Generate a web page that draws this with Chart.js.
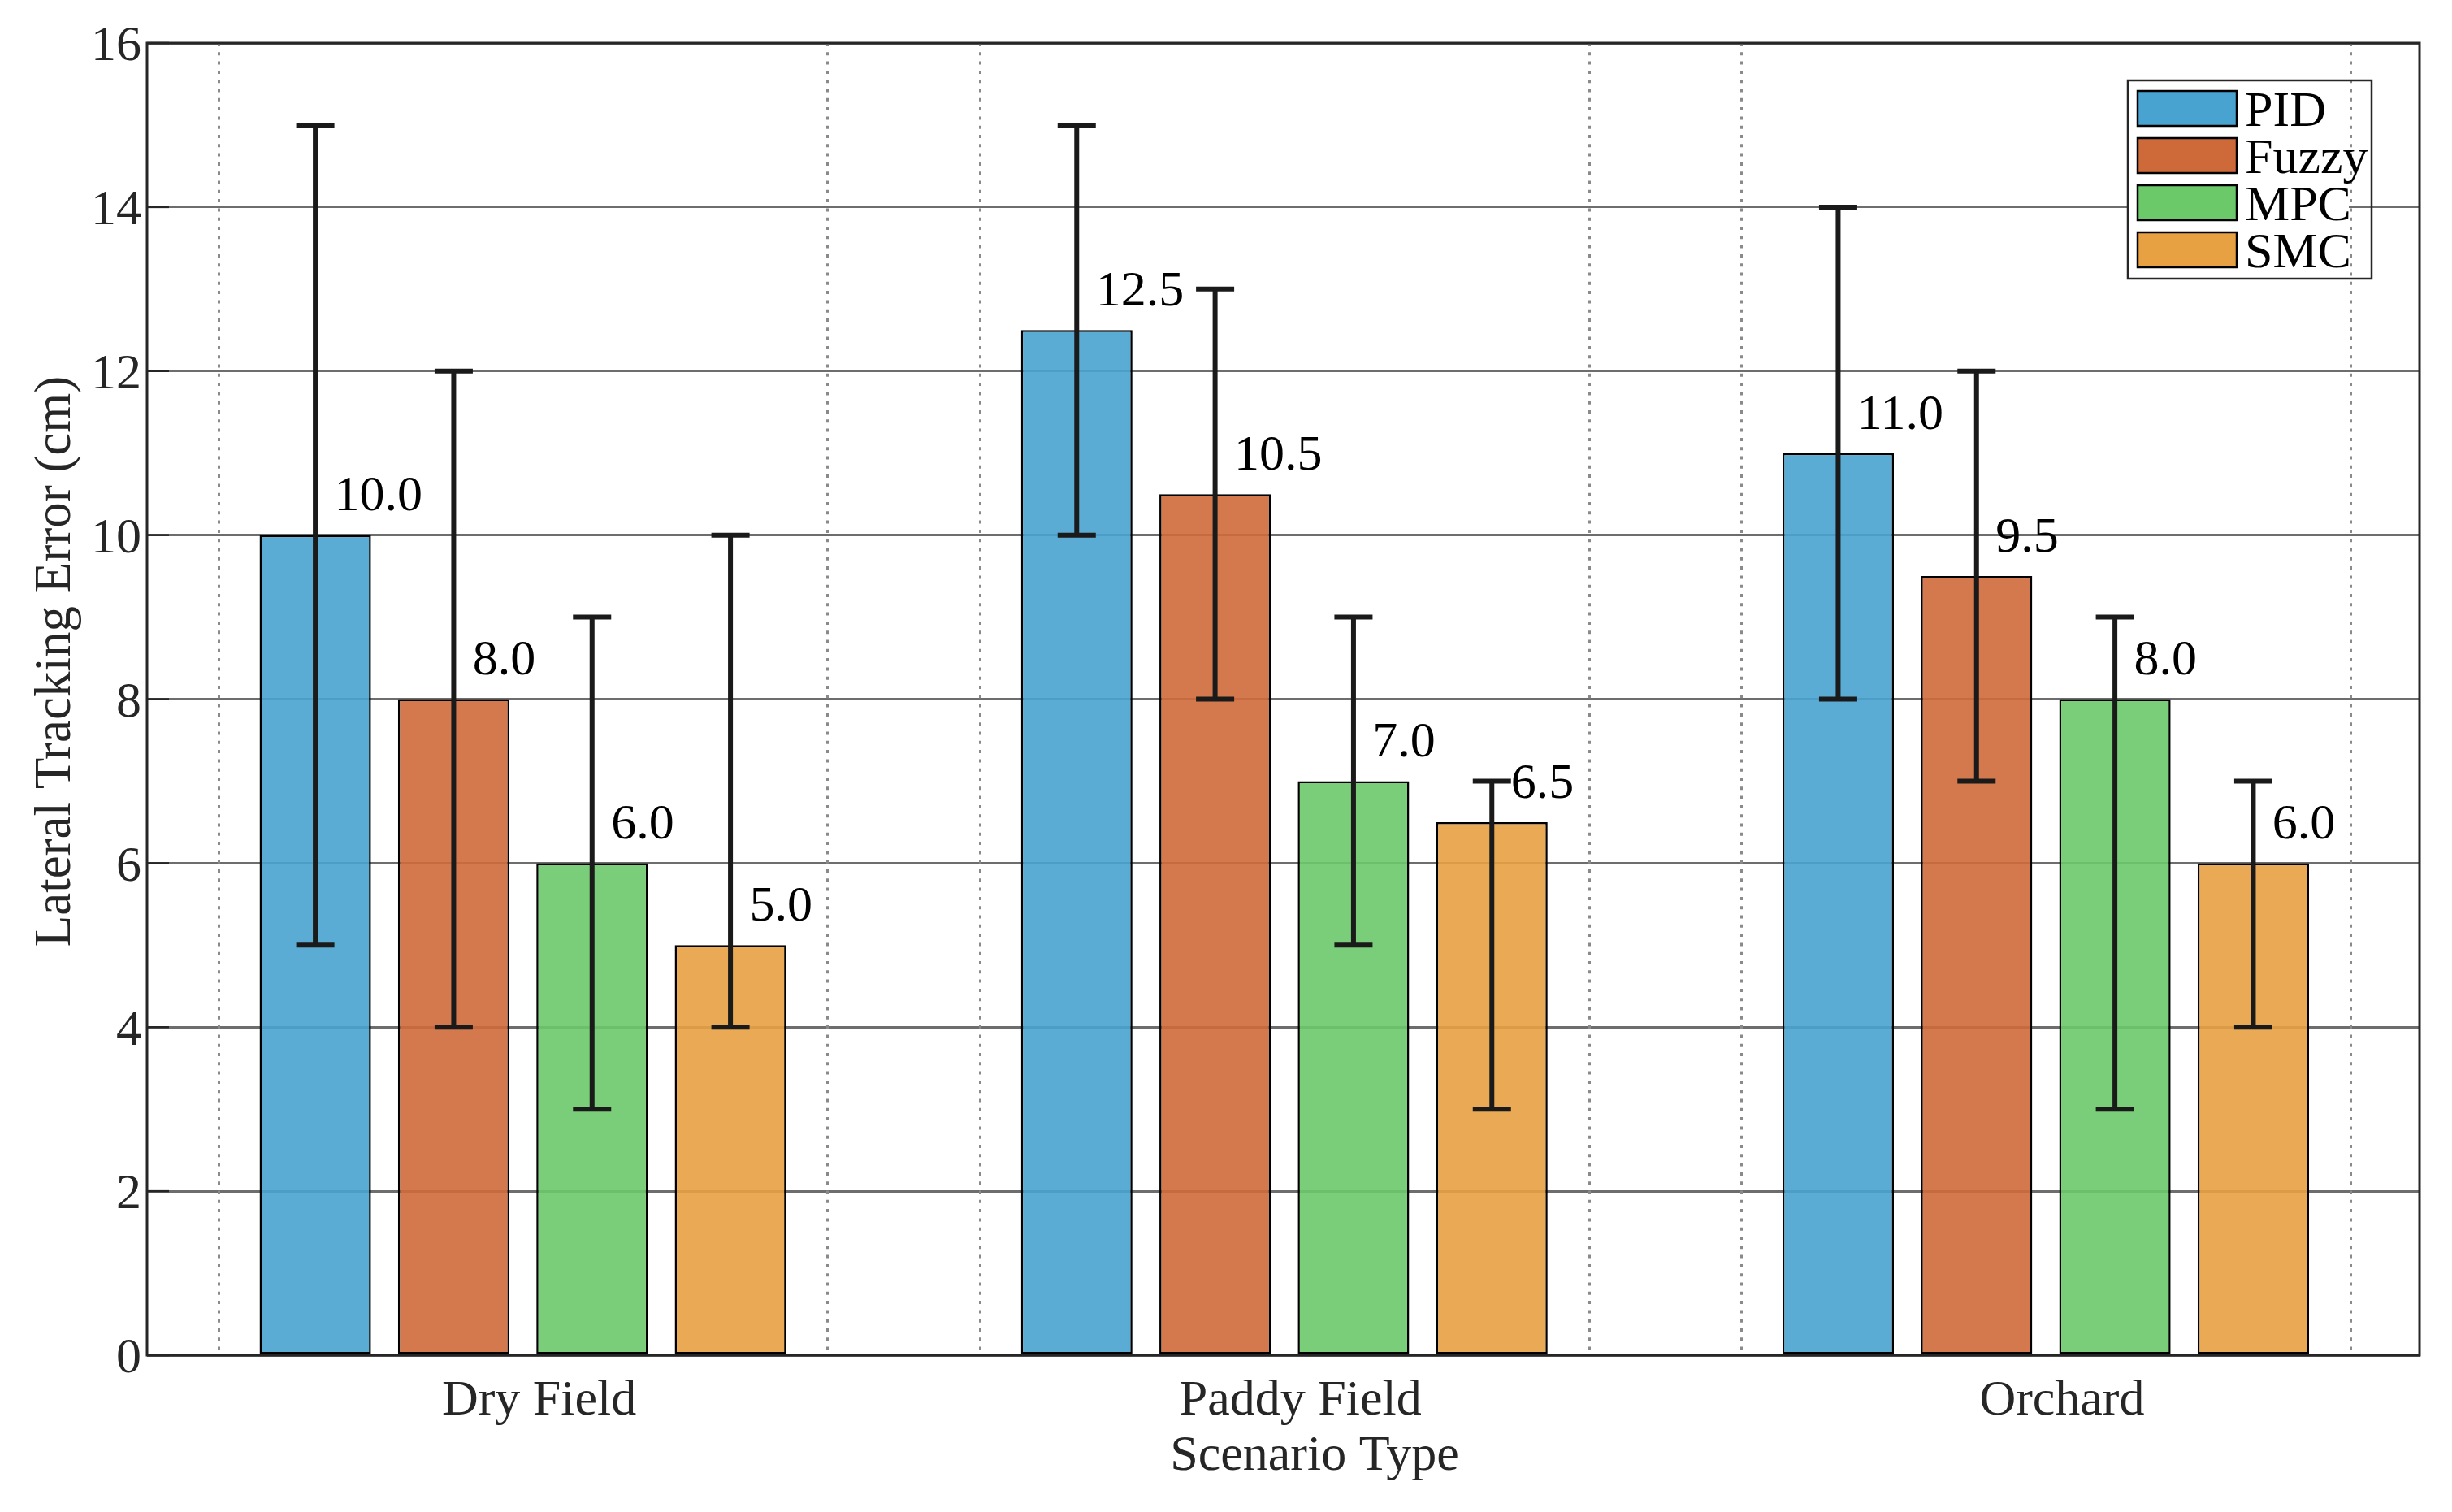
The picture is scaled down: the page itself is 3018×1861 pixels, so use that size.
<!DOCTYPE html>
<html><head><meta charset="utf-8">
<script src="https://cdn.jsdelivr.net/npm/chart.js@4.4.1/dist/chart.umd.min.js"></script>
<style>html,body{margin:0;padding:0;background:#fff}canvas{display:block}</style>
</head><body><canvas id="c" width="3018" height="1861"></canvas>
<script>
// ---------- data ----------
const categories = ['Dry Field', 'Paddy Field', 'Orchard'];
const categoryPositions = [1, 2, 3];
const seriesNames = ['PID', 'Fuzzy', 'MPC', 'SMC'];
const pidValues   = [10.0, 12.5, 11.0];
const fuzzyValues = [8.0, 10.5, 9.5];
const mpcValues   = [6.0, 7.0, 8.0];
const smcValues   = [5.0, 6.5, 6.0];
const pidLow   = [5, 10, 8];  const pidHigh   = [15, 15, 14];
const fuzzyLow = [4, 8, 7];   const fuzzyHigh = [12, 13, 12];
const mpcLow   = [3, 5, 3];   const mpcHigh   = [9, 9, 9];
const smcLow   = [4, 3, 4];   const smcHigh   = [10, 7, 7];
const yTickValues = [0, 2, 4, 6, 8, 10, 12, 14, 16];
const minorGridX = [0.6, 1.4, 1.6, 2.4, 2.6, 3.4];
const xTitle = 'Scenario Type';
const yTitle = 'Lateral Tracking Error (cm)';

// ---------- style ----------
const FONT = '"Liberation Serif", "Times New Roman", serif';
const FS = 62;
const baseColors = [[72,163,208],[206,106,58],[108,201,106],[232,161,66]];
const rgba = (c, a) => `rgba(${c[0]},${c[1]},${c[2]},${a})`;
const AXIS_COLOR = '#262626';

const seriesValues = [pidValues, fuzzyValues, mpcValues, smcValues];
const seriesLow = [pidLow, fuzzyLow, mpcLow, smcLow];
const seriesHigh = [pidHigh, fuzzyHigh, mpcHigh, smcHigh];

const datasets = seriesNames.map((name, i) => ({
  label: name,
  data: seriesValues[i],
  errLow: seriesLow[i],
  errHigh: seriesHigh[i],
  backgroundColor: rgba(baseColors[i], 0.9),
  borderColor: '#000',
  borderWidth: 2.5,
  borderSkipped: false,
  categoryPercentage: 0.727,
  barPercentage: 0.805
}));

const overlayPlugin = {
  id: 'overlay',
  beforeDraw(chart) {
    const ctx = chart.ctx;
    ctx.save(); ctx.fillStyle = '#fff'; ctx.fillRect(0, 0, chart.width, chart.height); ctx.restore();
  },
  beforeDatasetsDraw(chart) {
    // dotted vertical grid lines at minor positions
    const ctx = chart.ctx, a = chart.chartArea, xs = chart.scales.x;
    ctx.save();
    ctx.strokeStyle = '#8a8a8a'; ctx.lineWidth = 3;
    ctx.setLineDash([4, 7.3]);
    minorGridX.forEach(v => {
      const x = Math.round(xs.getPixelForValue(v)) + 0.5;
      ctx.beginPath(); ctx.moveTo(x, a.top); ctx.lineTo(x, a.bottom); ctx.stroke();
    });
    ctx.restore();
  },
  afterDatasetsDraw(chart) {
    const ctx = chart.ctx, ys = chart.scales.y, xs = chart.scales.x;
    ctx.save();
    // error bars
    ctx.strokeStyle = '#1a1a1a'; ctx.lineWidth = 6; ctx.lineCap = 'butt';
    chart.data.datasets.forEach((ds, i) => {
      chart.getDatasetMeta(i).data.forEach((bar, j) => {
        const x = bar.x;
        const yl = ys.getPixelForValue(ds.errLow[j]);
        const yh = ys.getPixelForValue(ds.errHigh[j]);
        const hw = 23.5;
        ctx.beginPath();
        ctx.moveTo(x, yl); ctx.lineTo(x, yh);
        ctx.moveTo(x - hw, yl); ctx.lineTo(x + hw, yl);
        ctx.moveTo(x - hw, yh); ctx.lineTo(x + hw, yh);
        ctx.stroke();
      });
    });
    // value labels
    ctx.fillStyle = '#000';
    ctx.font = `${FS}px ${FONT}`;
    ctx.textAlign = 'left'; ctx.textBaseline = 'middle';
    const dx = xs.getPixelForValue(1.025) - xs.getPixelForValue(1);
    chart.data.datasets.forEach((ds, i) => {
      chart.getDatasetMeta(i).data.forEach((bar, j) => {
        const v = ds.data[j];
        ctx.fillText(v.toFixed(1), bar.x + dx, ys.getPixelForValue(v + 0.5) + 4);
      });
    });
    ctx.restore();
  },
  afterDraw(chart) {
    const ctx = chart.ctx, a = chart.chartArea, ys = chart.scales.y;
    ctx.save();
    // y ticks (inward, left)
    ctx.strokeStyle = AXIS_COLOR; ctx.lineWidth = 2.5;
    yTickValues.forEach(v => {
      const y = ys.getPixelForValue(v);
      ctx.beginPath(); ctx.moveTo(a.left, y); ctx.lineTo(a.left + 27, y); ctx.stroke();
    });
    // frame
    ctx.lineWidth = 3;
    ctx.strokeRect(a.left, a.top, a.right - a.left, a.bottom - a.top);

    // legend
    const lx = 2619, ly = 99, lw = 300, lh = 244;
    ctx.fillStyle = '#fff';
    ctx.fillRect(lx, ly, 272, lh);
    ctx.strokeStyle = AXIS_COLOR; ctx.lineWidth = 2.5;
    ctx.strokeRect(lx, ly, lw, lh);
    ctx.font = `${FS}px ${FONT}`;
    ctx.textAlign = 'left'; ctx.textBaseline = 'middle';
    chart.data.datasets.forEach((ds, i) => {
      const sy = 112 + i * 58;
      ctx.fillStyle = rgba(baseColors[i], 1);
      ctx.fillRect(2631, sy, 122, 43);
      ctx.strokeStyle = '#000'; ctx.lineWidth = 2.5;
      ctx.strokeRect(2631, sy, 122, 43);
      ctx.fillStyle = '#000';
      ctx.fillText(ds.label, 2763, sy + 27);
    });

    // axis titles
    ctx.fillStyle = AXIS_COLOR;
    ctx.textAlign = 'center'; ctx.textBaseline = 'middle';
    ctx.fillText(xTitle, 1618, 1793);
    ctx.save();
    ctx.translate(69, 814);
    ctx.rotate(-Math.PI / 2);
    ctx.font = `${FS + 1}px ${FONT}`;
    ctx.fillText(yTitle, 0, 0);
    ctx.restore();
    ctx.restore();
  }
};

function build() {
  new Chart(document.getElementById('c'), {
    type: 'bar',
    data: { labels: categoryPositions, datasets },
    options: {
      responsive: false,
      animation: false,
      devicePixelRatio: 1,
      layout: { padding: { top: 53, right: 40, left: 0, bottom: 0 } },
      plugins: { legend: { display: false }, tooltip: { enabled: false }, title: { display: false } },
      scales: {
        x: {
          type: 'linear',
          min: 0.5064, max: 3.4909,
          offset: false,
          position: 'bottom',
          grid: { display: false, offset: false },
          border: { display: false },
          afterBuildTicks: (ax) => { ax.ticks = categoryPositions.map(v => ({ value: v })); },
          afterFit: (ax) => { ax.height = 193; },
          ticks: {
            padding: 12,
            labelOffset: 20,
            maxRotation: 0,
            autoSkip: false,
            color: AXIS_COLOR,
            font: { family: FONT, size: FS },
            callback: (v) => categories[Math.round(v) - 1] || ''
          }
        },
        y: {
          min: 0, max: 16,
          afterBuildTicks: (ax) => { ax.ticks = yTickValues.map(v => ({ value: v })); },
          afterFit: (ax) => { ax.width = 181; },
          border: { display: false },
          grid: { color: '#6d6d6d', lineWidth: 3, drawTicks: false },
          ticks: {
            padding: 7,
            labelOffset: 5,
            color: AXIS_COLOR,
            font: { family: FONT, size: FS }
          }
        }
      }
    },
    plugins: [overlayPlugin]
  });
}
if (document.fonts && document.fonts.load) {
  document.fonts.load(`${FS}px "Liberation Serif"`).then(build, build);
} else { build(); }
</script>
</body></html>
